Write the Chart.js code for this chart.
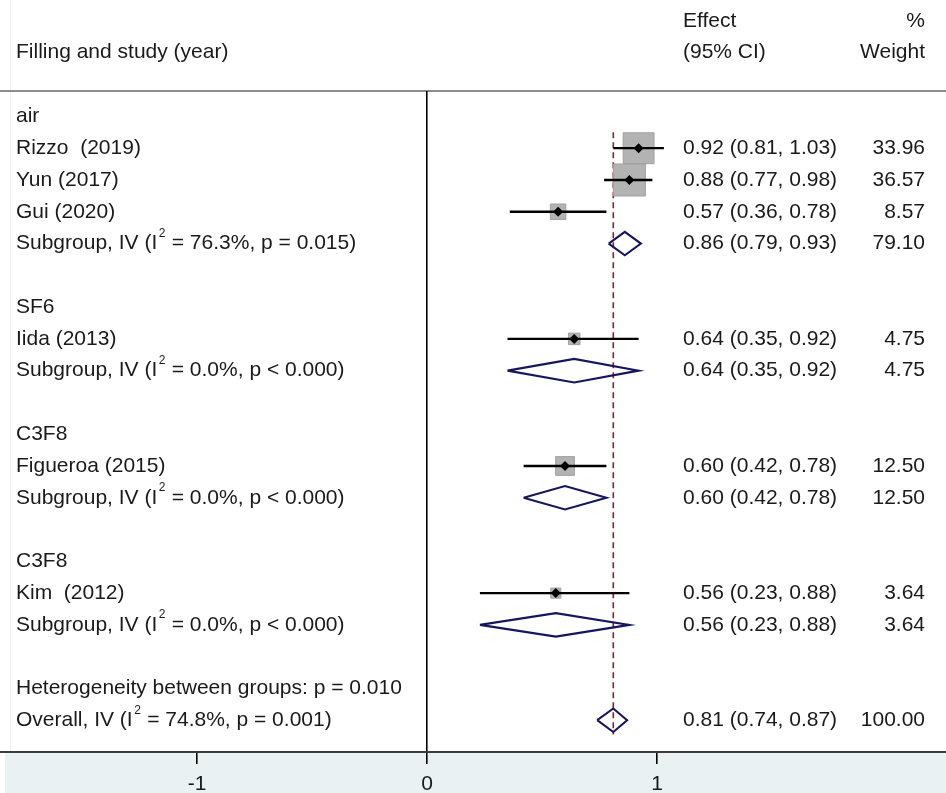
<!DOCTYPE html>
<html><head><meta charset="utf-8">
<script src="https://cdn.jsdelivr.net/npm/chart.js@4.4.1/dist/chart.umd.min.js"></script>
<style>html,body{margin:0;padding:0;background:#fff;overflow:hidden;}#wrap{width:946px;height:793px;position:relative;}</style>
</head><body><div id="wrap"><canvas id="c" width="946" height="793"></canvas></div>
<script>
// ---------- data ----------
const rowLabels = [
  "air", "Rizzo  (2019)", "Yun (2017)", "Gui (2020)",
  "Subgroup, IV (I^2 = 76.3%, p = 0.015)", "",
  "SF6", "Iida (2013)", "Subgroup, IV (I^2 = 0.0%, p < 0.000)", "",
  "C3F8", "Figueroa (2015)", "Subgroup, IV (I^2 = 0.0%, p < 0.000)", "",
  "C3F8", "Kim  (2012)", "Subgroup, IV (I^2 = 0.0%, p < 0.000)", "",
  "Heterogeneity between groups: p = 0.010",
  "Overall, IV (I^2 = 74.8%, p = 0.001)"
];
const studyRows   = [1, 2, 3, 7, 11, 15];
const studyEffect = [0.92, 0.88, 0.57, 0.64, 0.60, 0.56];
const studyLower  = [0.81, 0.77, 0.36, 0.35, 0.42, 0.23];
const studyUpper  = [1.03, 0.98, 0.78, 0.92, 0.78, 0.88];
const studyWeight = [33.96, 36.57, 8.57, 4.75, 12.50, 3.64];

const subRows   = [4, 8, 12, 16];
const subEffect = [0.86, 0.64, 0.60, 0.56];
const subLower  = [0.79, 0.35, 0.42, 0.23];
const subUpper  = [0.93, 0.92, 0.78, 0.88];
const subWeight = [79.10, 4.75, 12.50, 3.64];

const overallRow    = 19;
const overallEffect = 0.81;
const overallLower  = 0.74;
const overallUpper  = 0.87;
const overallWeight = 100.00;

const xTicks = [-1, 0, 1];
const headerLeft = "Filling and study (year)";
const headerEffect = ["Effect", "(95% CI)"];
const headerWeight = ["%", "Weight"];

// ---------- styling ----------
const FONT_FAMILY = "'Liberation Sans', Arial, sans-serif";
const FS = 21;
const TXT = '#1a1a1a';
const DIAMOND_H = 0.37;

const datasets = [];
// overall dashed line
datasets.push({
  data: [{x: overallEffect, y: studyRows[0] - 0.5}, {x: overallEffect, y: overallRow + 0.45}],
  showLine: true, borderColor: '#8b1d2c', borderWidth: 1.6, borderDash: [6, 4],
  pointRadius: 0, order: 6
});
// weight squares
datasets.push({
  data: studyEffect.map((e, i) => ({x: e, y: studyRows[i]})),
  pointStyle: 'rect',
  pointRadius: studyWeight.map(w => 5.3 * Math.sqrt(w) / Math.SQRT2),
  backgroundColor: '#b3b3b3', borderColor: '#a0a0a0', borderWidth: 1,
  showLine: false, order: 5
});
// CI lines
studyEffect.forEach((e, i) => {
  datasets.push({
    data: [{x: studyLower[i], y: studyRows[i]}, {x: studyUpper[i], y: studyRows[i]}],
    showLine: true, borderColor: '#000', borderWidth: 2.3, pointRadius: 0, order: 3
  });
});
// diamonds
const diamondSets = subEffect.map((e, i) => [subRows[i], e, subLower[i], subUpper[i]]);
diamondSets.push([overallRow, overallEffect, overallLower, overallUpper]);
diamondSets.forEach(([r, e, l, u]) => {
  datasets.push({
    data: [{x: l, y: r}, {x: e, y: r - DIAMOND_H}, {x: u, y: r}, {x: e, y: r + DIAMOND_H}, {x: l, y: r}],
    showLine: true, fill: false, borderColor: '#16165e', borderWidth: 2.1,
    borderJoinStyle: 'miter', pointRadius: 0, tension: 0, order: 2
  });
});
// point markers
datasets.push({
  data: studyEffect.map((e, i) => ({x: e, y: studyRows[i]})),
  pointStyle: 'rectRot', pointRadius: 5,
  backgroundColor: '#000', borderColor: '#000', borderWidth: 0,
  showLine: false, order: 1
});

function drawRich(ctx, str, x, y, align) {
  const main = FS + 'px ' + FONT_FAMILY;
  const sup = '12px ' + FONT_FAMILY;
  const parts = str.split('^2');
  ctx.textBaseline = 'middle';
  ctx.textAlign = 'left';
  ctx.font = main;
  let total = ctx.measureText(parts[0]).width;
  let supW = 0;
  if (parts.length > 1) {
    ctx.font = sup; supW = ctx.measureText('2').width + 2;
    ctx.font = main; total += supW + ctx.measureText(parts[1]).width;
  }
  let cx = align === 'right' ? x - total : x;
  ctx.font = main;
  ctx.fillText(parts[0], cx, y);
  cx += ctx.measureText(parts[0]).width;
  if (parts.length > 1) {
    ctx.font = sup;
    ctx.fillText('2', cx + 1.5, y - 10);
    cx += supW;
    ctx.font = main;
    ctx.fillText(parts[1], cx, y);
  }
}

const fmtCI = (e, l, u) => `${e.toFixed(2)} (${l.toFixed(2)}, ${u.toFixed(2)})`;

const forestPlugin = {
  id: 'forest',
  beforeDraw(chart) {
    const {ctx, chartArea, width, height} = chart;
    ctx.save();
    ctx.fillStyle = '#fff';
    ctx.fillRect(0, 0, width, height);
    ctx.fillStyle = '#e9f1f3';
    ctx.fillRect(5, chartArea.bottom, width - 5, height - chartArea.bottom);
    ctx.strokeStyle = '#f0f0f0';
    ctx.lineWidth = 1;
    ctx.beginPath(); ctx.moveTo(10.5, 0); ctx.lineTo(10.5, chartArea.bottom); ctx.stroke();
    ctx.strokeStyle = '#8c8c8c';
    ctx.lineWidth = 2;
    ctx.beginPath(); ctx.moveTo(0, chartArea.top); ctx.lineTo(width, chartArea.top); ctx.stroke();
    ctx.restore();
  },
  afterDraw(chart) {
    const {ctx} = chart;
    const ys = chart.scales.y;
    const xL = 16, xE = 683, xW = 925;
    ctx.save();
    ctx.fillStyle = TXT;
    // headers
    drawRich(ctx, headerLeft, xL, 52, 'left');
    drawRich(ctx, headerEffect[0], xE, 21, 'left');
    drawRich(ctx, headerEffect[1], xE, 52, 'left');
    drawRich(ctx, headerWeight[0], xW, 21, 'right');
    drawRich(ctx, headerWeight[1], xW, 52, 'right');
    // row labels
    rowLabels.forEach((t, r) => { if (t) drawRich(ctx, t, xL, ys.getPixelForValue(r), 'left'); });
    // study stats
    studyEffect.forEach((e, i) => {
      const y = ys.getPixelForValue(studyRows[i]);
      drawRich(ctx, fmtCI(e, studyLower[i], studyUpper[i]), xE, y, 'left');
      drawRich(ctx, studyWeight[i].toFixed(2), xW, y, 'right');
    });
    subEffect.forEach((e, i) => {
      const y = ys.getPixelForValue(subRows[i]);
      drawRich(ctx, fmtCI(e, subLower[i], subUpper[i]), xE, y, 'left');
      drawRich(ctx, subWeight[i].toFixed(2), xW, y, 'right');
    });
    const yo = ys.getPixelForValue(overallRow);
    drawRich(ctx, fmtCI(overallEffect, overallLower, overallUpper), xE, yo, 'left');
    drawRich(ctx, overallWeight.toFixed(2), xW, yo, 'right');
    ctx.restore();
  }
};

new Chart(document.getElementById('c'), {
  type: 'scatter',
  data: {datasets},
  plugins: [forestPlugin],
  options: {
    responsive: false, animation: false, devicePixelRatio: 1, events: [],
    layout: {autoPadding: false, padding: {top: 91, left: 0, right: 0, bottom: 0}},
    plugins: {legend: {display: false}, tooltip: {enabled: false}},
    scales: {
      x: {
        type: 'linear', min: -1.8565, max: 2.2565,
        afterBuildTicks: s => { s.ticks = xTicks.map(v => ({value: v})); },
        afterFit: s => { s.height = 41; s.paddingLeft = 0; s.paddingRight = 0; },
        grid: {
          drawOnChartArea: true,
          color: c => (c.tick && c.tick.value === 0) ? '#000' : 'rgba(0,0,0,0)',
          lineWidth: 1.6, tickLength: 12, tickColor: '#000', tickWidth: 1.6
        },
        border: {display: true, color: '#3c3c3c', width: 2},
        ticks: {font: {family: FONT_FAMILY, size: FS}, color: TXT, padding: 8,
                maxRotation: 0, autoSkip: false}
      },
      y: {type: 'linear', display: false, min: -0.8, max: 20, reverse: true}
    }
  }
});
</script></body></html>
